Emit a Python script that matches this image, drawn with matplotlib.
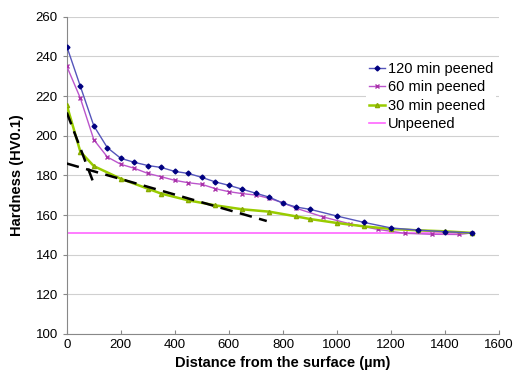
import matplotlib.pyplot as plt
import numpy as np

plt.rcParams['font.family'] = ['Liberation Sans', 'DejaVu Sans']

x_120 = [0, 50, 100, 150, 200, 250, 300, 350, 400, 450, 500, 550, 600, 650, 700, 750, 800, 850,
         900, 1000, 1100, 1200, 1300, 1400, 1500]
hv_120 = [245, 225, 205, 194, 188.6, 186.6, 185, 184, 182, 181, 179, 176.7, 175, 173, 171, 169, 166, 164,
          162.9, 159.5, 156.3, 153.5, 152.4, 151.6, 151]

x_60 = [0, 50, 100, 150, 200, 250, 300, 350, 400, 450, 500, 550, 600, 650, 700, 750, 800, 850,
        950, 1050, 1150, 1250, 1350, 1450, 1500]
hv_60 = [235, 219, 198, 189.3, 185.6, 183.6, 181, 179.3, 177.5, 176.3, 175.5, 173.3, 171.8, 170.8, 170.1,
         168.4, 166.2, 163.4, 159, 155.5, 152.8, 150.8, 150.3, 150.2, 151]

x_30 = [0, 50, 100, 200, 300, 350, 450, 550, 650, 750, 850, 900, 1000, 1100, 1200, 1300, 1400, 1500]
hv_30 = [215.4, 192, 184.7, 178.3, 173.3, 170.8, 167.4, 164.9, 162.9, 161.7, 159.3, 158, 156, 154.3,
         153, 152.3, 151.8, 151]

x_unpeened = [0, 1500]
hv_unpeened = [151, 151]

# tangent lines drawn by hand on the original
fit1_x = [0, 100]
fit1_y = [211.7, 175.8]
fit2_x = [0, 740]
fit2_y = [186, 157]

fig = plt.figure(figsize=(5.14, 3.92), dpi=100)
ax = fig.add_axes([0.130, 0.148, 0.841, 0.809])

ax.plot(x_120, hv_120, color='#5555bb', lw=1.0, marker='D', ms=2.5, mfc='#000080', mec='#000080',
        label='120 min peened', zorder=4)
ax.plot(x_60, hv_60, color='#bb55cc', lw=1.0, marker='x', ms=3, mec='#aa33aa', mew=1,
        label='60 min peened', zorder=3)
ax.plot(x_30, hv_30, color='#99cc00', lw=1.8, marker='^', ms=3, mfc='#99cc00', mec='#88aa00',
        label='30 min peened', zorder=3)
ax.plot(x_unpeened, hv_unpeened, color='#ff66ff', lw=1.2, label='Unpeened', zorder=2)

ax.plot(fit1_x, fit1_y, color='black', lw=1.8, ls=(0, (5, 3)), zorder=5)
ax.plot(fit2_x, fit2_y, color='black', lw=1.8, ls=(0, (5, 3)), zorder=5)

ax.set_xlim(0, 1600)
ax.set_ylim(100, 260)
ax.set_xticks(np.arange(0, 1601, 200))
ax.set_yticks(np.arange(100, 261, 20))
ax.tick_params(axis='both', labelsize=9.5, color='#888888', length=3)
ax.tick_params(axis='x', direction='in')
ax.grid(True, axis='y', color='#d0d0d0', lw=0.8)
ax.set_axisbelow(True)
for s in ['top', 'right']:
    ax.spines[s].set_visible(False)
for s in ['left', 'bottom']:
    ax.spines[s].set_color('#888888')

ax.set_xlabel('Distance from the surface (µm)', fontsize=10.5, fontweight='bold', labelpad=4)
ax.set_ylabel('Hardness (HV0.1)', fontsize=10.5, fontweight='bold', labelpad=8)

leg = ax.legend(loc='upper right', bbox_to_anchor=(1.01, 0.89), frameon=True, fontsize=10.5,
                handlelength=1.1, handletextpad=0.2, labelspacing=0.3, borderpad=0.2)
leg.get_frame().set_facecolor('white')
leg.get_frame().set_edgecolor('none')
leg.get_frame().set_alpha(1)

fig.savefig('out.png', dpi=100)
